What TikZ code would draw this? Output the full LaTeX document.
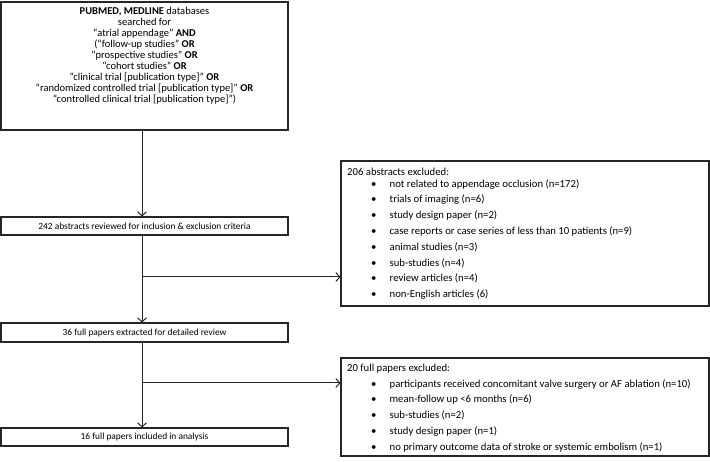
\documentclass[tikz,border=0pt]{standalone}
\usepackage{fontspec}
\setmainfont{Carlito}
\usetikzlibrary{arrows.meta}
\newcommand\exbul{\makebox[18.5pt][l]{\textbullet}}
\begin{document}
\begin{tikzpicture}[x=1pt,y=-1pt,
  frame/.style={draw=black!85, line width=1.1pt, inner sep=0pt},
  box/.style={frame, minimum width=287pt, minimum height=18pt, font=\fontsize{9.4}{11}\selectfont},
  exbox/.style={frame, minimum width=368pt},
  arr/.style={draw=black!85, line width=1pt, -{Straight Barb[length=4pt,width=9pt,line width=1pt]}},
  txt/.style={inner sep=0pt, font=\fontsize{10.5}{11}\selectfont},
  extitle/.style={inner sep=0pt, font=\fontsize{10.7}{12}\selectfont},
  listtxt/.style={inner sep=0pt, align=left, font=\fontsize{10.7}{15.8}\selectfont}]
\useasboundingbox (0,0) rectangle (710,462);
% main column
\node[frame, minimum width=287pt, minimum height=128pt] (top) at (144.5,66) {};
\node[txt, align=center, anchor=north] (toptext) at (144.5,7.5) {%
\textbf{PUBMED, MEDLINE} databases\\
searched for\\
“atrial appendage” \textbf{AND}\\
(“follow-up studies” \textbf{OR}\\
“prospective studies” \textbf{OR}\\
“cohort studies” \textbf{OR}\\
“clinical trial [publication type]” \textbf{OR}\\
“randomized controlled trial [publication type]” \textbf{OR}\\
“controlled clinical trial [publication type]”)};
\node[box] (b242) at (144.5,226) {242 abstracts reviewed for inclusion \& exclusion criteria};
\node[box, minimum height=19pt] (b36) at (144.5,332.5) {36 full papers extracted for detailed review};
\node[box] (b16) at (144.5,437) {16 full papers included in analysis};
% exclusion boxes
\node[exbox, minimum height=145pt] (ex1) at (525,233.5) {};
\node[extitle, anchor=west] (ex1title) at (347,172) {206 abstracts excluded:};
\node[listtxt, anchor=north west] (ex1list) at (371,179) {%
\exbul not related to appendage occlusion (n=172)\\
\exbul trials of imaging (n=6)\\
\exbul study design paper (n=2)\\
\exbul case reports or case series of less than 10 patients (n=9)\\
\exbul animal studies (n=3)\\
\exbul sub-studies (n=4)\\
\exbul review articles (n=4)\\
\exbul non-English articles (6)};
\node[exbox, minimum height=98pt] (ex2) at (525,407) {};
\node[extitle, anchor=west] (ex2title) at (347,369) {20 full papers excluded:};
\node[listtxt, anchor=north west] (ex2list) at (371,379) {%
\exbul participants received concomitant valve surgery or AF ablation (n=10)\\
\exbul mean-follow up <6 months (n=6)\\
\exbul sub-studies (n=2)\\
\exbul study design paper (n=1)\\
\exbul no primary outcome data of stroke or systemic embolism (n=1)};
% connectors
\draw[arr] ([xshift=-2.5pt]top.south) -- ([xshift=-2.5pt]b242.north);
\draw[arr] ([xshift=-2.5pt]b242.south) -- ([xshift=-2.5pt]b36.north);
\draw[arr] ([xshift=-2.5pt]b36.south) -- ([xshift=-2.5pt]b16.north);
\coordinate (j1) at (142,277);
\coordinate (j2) at (142,383);
\draw[arr] (j1) -- (j1 -| ex1.west);
\draw[arr] (j2) -- (j2 -| ex2.west);
\end{tikzpicture}
\end{document}
